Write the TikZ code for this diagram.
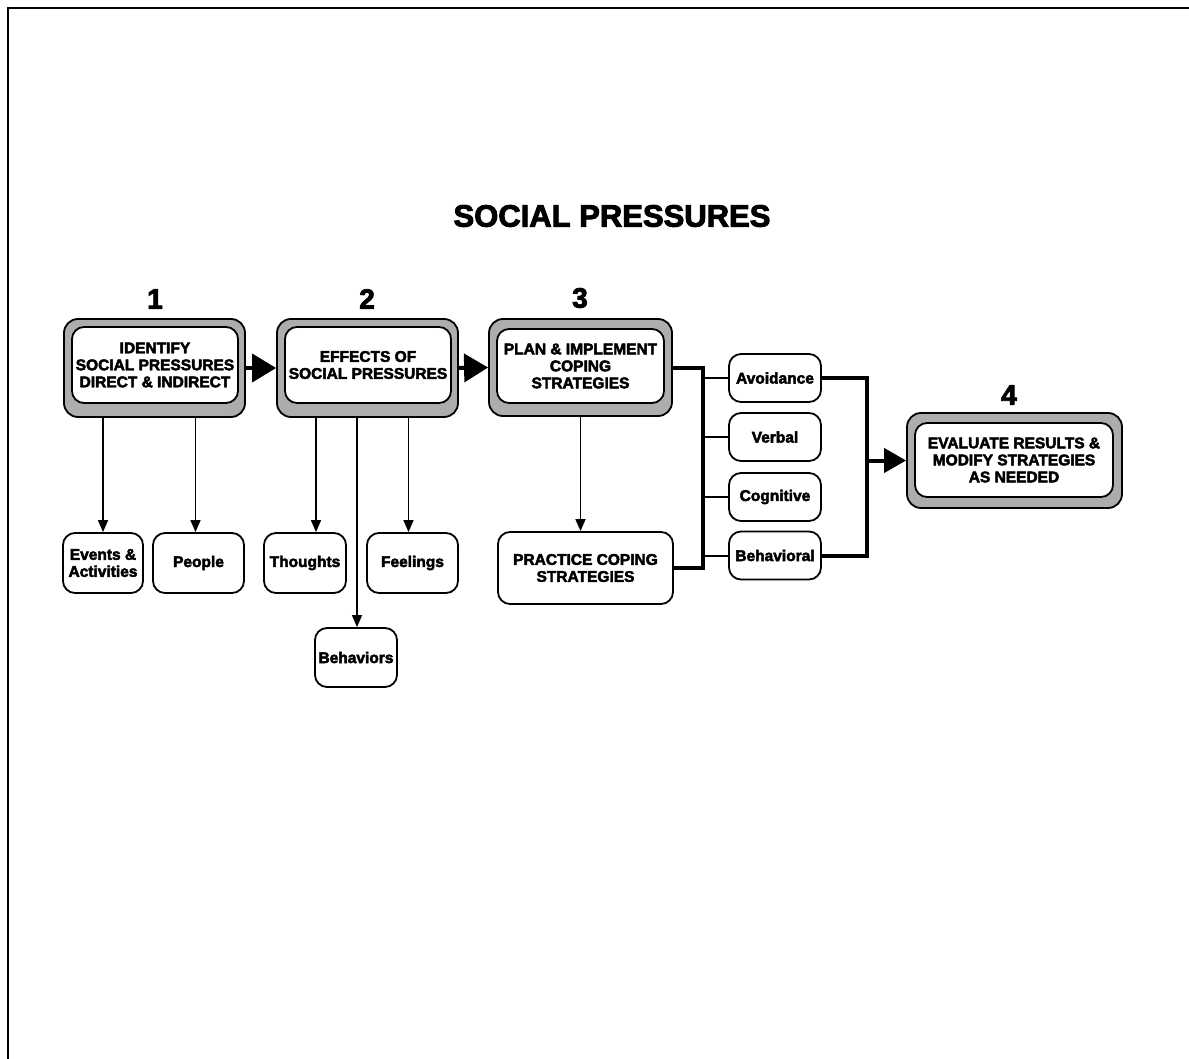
\documentclass[tikz,border=0pt]{standalone}
\usepackage{fontspec}
\setmainfont{Liberation Sans}
\newfontfamily\heavy{Liberation Sans Bold}[FakeBold=3]
\usetikzlibrary{arrows.meta}

\tikzset{
  frameline/.style={line width=2.5pt},
  outerbox/.style={draw, line width=1.8pt, rounded corners=14pt, fill=black!32, inner sep=0pt},
  innerbox/.style={draw, line width=1.8pt, rounded corners=12pt, fill=white, inner sep=0pt,
                   align=center, font=\heavy\fontsize{15.5}{17}\selectfont},
  smallbox/.style={draw, line width=1.8pt, rounded corners=12pt, fill=white, inner sep=0pt,
                   align=center, font=\heavy\fontsize{15.5}{17}\selectfont},
  numlabel/.style={font=\heavy\fontsize{28}{28}\selectfont, inner sep=0pt},
  arr/.style={line width=1.5pt, -{Triangle[length=12pt,width=10pt]}},
  branch/.style={line width=2pt},
  bus/.style={line width=4pt},
  bigarr/.style={line width=4pt, -{Triangle[length=24pt,width=28pt]}},
}

\begin{document}
\begin{tikzpicture}[x=1pt,y=-1pt]
\useasboundingbox (0,0) rectangle (1189,1059);

% page frame (top and left edges)
\draw[frameline] (8,1059) -- (8,8) -- (1189,8);

% title
\node[font=\heavy\fontsize{31}{31}\selectfont, inner sep=0pt] (title) at (612,216) {SOCIAL PRESSURES};

% step numbers
\node[numlabel] (n1) at (155,299) {1};
\node[numlabel] (n2) at (367,299) {2};
\node[numlabel] (n3) at (580,298) {3};
\node[numlabel] (n4) at (1009,395) {4};

% main step boxes: shaded frame with white inner panel
\node[outerbox, minimum width=181pt, minimum height=98pt] (s1) at (154.5,368) {};
\node[innerbox, minimum width=166pt, minimum height=76pt] (b1) at (155,365)
  {IDENTIFY\\SOCIAL PRESSURES\\DIRECT \& INDIRECT};

\node[outerbox, minimum width=181pt, minimum height=98pt] (s2) at (367.5,368) {};
\node[innerbox, minimum width=166pt, minimum height=76pt] (b2) at (368,365)
  {EFFECTS OF\\SOCIAL PRESSURES};

\node[outerbox, minimum width=183pt, minimum height=97pt] (s3) at (580.5,367.5) {};
\node[innerbox, minimum width=167pt, minimum height=74pt] (b3) at (580.5,366)
  {PLAN \& IMPLEMENT\\COPING\\STRATEGIES};

\node[outerbox, minimum width=215pt, minimum height=95pt] (s4) at (1014.5,460.5) {};
\node[innerbox, minimum width=198pt, minimum height=74pt] (b4) at (1014,460)
  {EVALUATE RESULTS \&\\MODIFY STRATEGIES\\AS NEEDED};

% sub boxes
\node[smallbox, minimum width=80pt, minimum height=60pt] (ev) at (103,563) {Events \&\\Activities};
\node[smallbox, minimum width=91pt, minimum height=60pt] (pe) at (198.5,563) {People};
\node[smallbox, minimum width=82pt, minimum height=60pt] (th) at (305,563) {Thoughts};
\node[smallbox, minimum width=91pt, minimum height=60pt] (fe) at (412.5,563) {Feelings};
\node[smallbox, minimum width=82pt, minimum height=59pt] (be) at (356,657.5) {Behaviors};
\node[smallbox, minimum width=175pt, minimum height=72pt] (pr) at (585.5,568) {PRACTICE COPING\\STRATEGIES};

\node[smallbox, minimum width=92pt, minimum height=48pt] (av) at (775,378) {Avoidance};
\node[smallbox, minimum width=92pt, minimum height=48pt] (ve) at (775,437) {Verbal};
\node[smallbox, minimum width=92pt, minimum height=48pt] (co) at (775,497) {Cognitive};
\node[smallbox, minimum width=92pt, minimum height=48pt] (bh) at (775,555.5) {Behavioral};

% step-to-step arrows
\draw[bigarr] (s1.east) -- (s2.west);
\draw[bigarr] (s2.east) -- (s3.west);

% downward arrows to sub boxes
\draw[arr] (s1.south -| ev.north) -- (ev.north);
\draw[arr] ([xshift=-3pt]s1.south -| pe.north) -- ([xshift=-3pt]pe.north);
\draw[arr] ([xshift=11pt]s2.south -| th.north) -- ([xshift=11pt]th.north);
\draw[arr] ([xshift=1pt]s2.south -| be.north) -- ([xshift=1pt]be.north);
\draw[arr] ([xshift=-4pt]s2.south -| fe.north) -- ([xshift=-4pt]fe.north);
\draw[arr] (s3.south) -- (s3.south |- pr.north);

% bracket joining step 3 and practice to the coping options
\coordinate (lb) at (703,568);
\draw[bus] (s3.east) -| (lb) -- (pr.east);
\draw[branch] (av.west) -- (av.west -| lb);
\draw[branch] (ve.west) -- (ve.west -| lb);
\draw[branch] (co.west) -- (co.west -| lb);
\draw[branch] (bh.west) -- (bh.west -| lb);

% bracket joining the coping options to step 4
\coordinate (rb) at (867,555.5);
\coordinate (rm) at (867,460.5);
\draw[bus] (av.east) -| (rb) -- (bh.east);
\draw[bigarr, -{Triangle[length=22pt,width=24pt]}] (rm) -- (s4.west);
\end{tikzpicture}
\end{document}
